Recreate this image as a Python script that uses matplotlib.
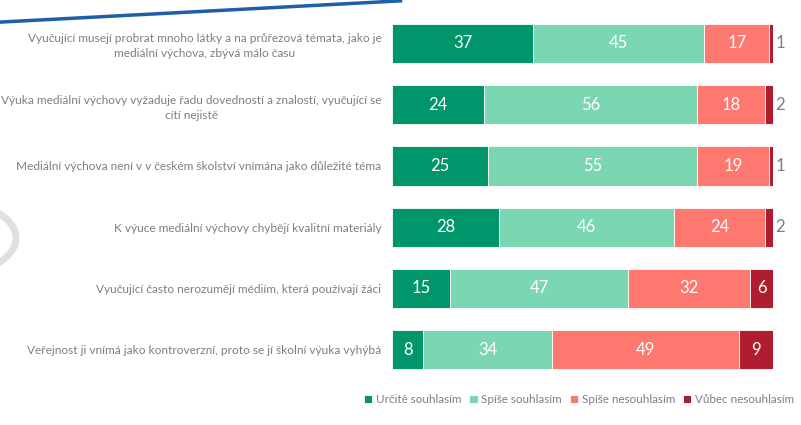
import matplotlib.pyplot as plt
import numpy as np
from matplotlib.patches import Circle
from matplotlib.lines import Line2D

plt.rcParams['font.family'] = ['Lato', 'DejaVu Sans']

# statements (top to bottom)
statements = [
    "Vyučující musejí probrat mnoho látky a na průřezová témata, jako je\nmediální výchova, zbývá málo času",
    "Výuka mediální výchovy vyžaduje řadu dovedností a znalostí, vyučující se\ncítí nejistě",
    "Mediální výchova není v v českém školství vnímána jako důležité téma",
    "K výuce mediální výchovy chybějí kvalitní materiály",
    "Vyučující často nerozumějí médiím, která používají žáci",
    "Veřejnost ji vnímá jako kontroverzní, proto se jí školní výuka vyhýbá",
]
series_names = ["Určitě souhlasím", "Spíše souhlasím", "Spíše nesouhlasím", "Vůbec nesouhlasím"]
urcite_souhlasim = [37, 24, 25, 28, 15, 8]
spise_souhlasim = [45, 56, 55, 46, 47, 34]
spise_nesouhlasim = [17, 18, 19, 24, 32, 49]
vubec_nesouhlasim = [1, 2, 1, 2, 6, 9]

colors = ['#00956a', '#7bd7b2', '#ff7870', '#b01c30']

fig = plt.figure(figsize=(8.01, 4.25), dpi=100)
ax = fig.add_axes([0.49, 0.105, 0.475, 0.865])

series = [urcite_souhlasim, spise_souhlasim, spise_nesouhlasim, vubec_nesouhlasim]
y = np.arange(len(statements))
left = np.zeros(len(statements))
for name, vals, col in zip(series_names, series, colors):
    vals = np.array(vals, dtype=float)
    bars = ax.barh(y, vals, left=left, height=0.64, color=col, label=name,
                   edgecolor='white', linewidth=0.6)
    for b, v, l in zip(bars, vals, left):
        if v >= 5:
            ax.text(l + v / 2, b.get_y() + b.get_height() / 2, f"{int(v)}",
                    ha='center', va='center', color='white', fontsize=12)
        else:
            ax.text(l + v + 0.6, b.get_y() + b.get_height() / 2, f"{int(v)}",
                    ha='left', va='center', color='#7f7f7f', fontsize=12)
    left += vals

ax.set_xlim(0, 100)
ax.set_ylim(len(statements) - 0.5, -0.5)
ax.set_yticks(y)
ax.set_yticklabels(statements, fontsize=8.6, color='#7f7f7f',
                   multialignment='center', linespacing=1.45)
ax.tick_params(axis='y', length=0, pad=8)
ax.set_xticks([])
for s in ax.spines.values():
    s.set_visible(False)

fig.legend(*ax.get_legend_handles_labels(), loc='upper right',
           bbox_to_anchor=(0.997, 0.083), ncol=4, frameon=False,
           fontsize=8.4, handlelength=0.7, handleheight=0.7, handletextpad=0.3,
           columnspacing=0.7, labelcolor='#7f7f7f', borderaxespad=0)

# slide decorations
fig.add_artist(Line2D([0, 0.5], [0.948, 0.998], color='#1f5fa8', lw=2.5,
                      transform=fig.transFigure))
fig.add_artist(Circle((-0.07, 0.44), 0.09, transform=fig.transFigure,
                      fill=False, edgecolor='#e0e0e0', lw=5))

plt.savefig('out.png', dpi=100)
